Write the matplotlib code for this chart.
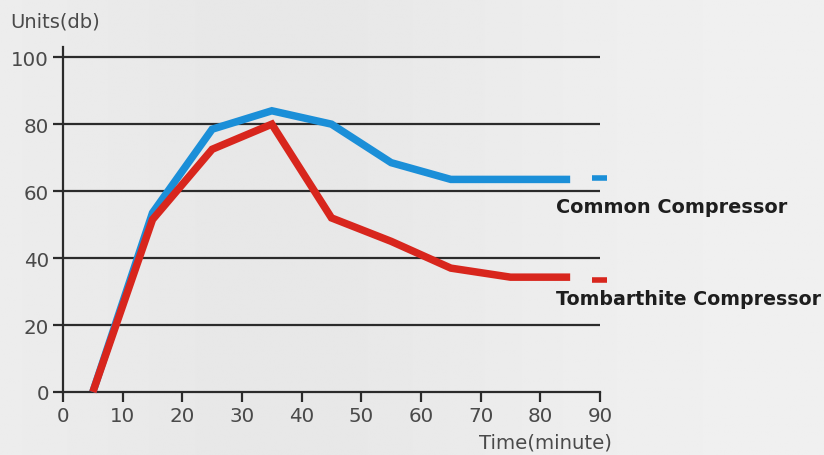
import numpy as np
import matplotlib
matplotlib.use("Agg")
import matplotlib.pyplot as plt

# data
time_common = [5, 15, 25, 35, 45, 55, 65, 85]
db_common = [0, 53.5, 78.5, 84, 80, 68.5, 63.5, 63.5]
time_tomb = [5, 15, 25, 35, 45, 55, 65, 75, 85]
db_tomb = [0, 51.5, 72.5, 80, 52, 45, 37, 34.3, 34.3]
# short dashes to the right of the lines
dash_x = [88.6, 91.2]
dash_common = [64, 64]
dash_tomb = [33.5, 33.5]

x_ticks = list(range(0, 91, 10))
y_ticks = list(range(0, 101, 20))

blue = "#1b8fd8"
red = "#d8261d"
tick_color = "#4a4a4a"

fig = plt.figure(figsize=(8.24, 4.56), dpi=100)

# brushed metal background
bg = fig.add_axes([0, 0, 1, 1], zorder=-10)
cols = np.linspace(0, 1, 400)
shade = 0.935 - 0.03 * np.exp(-((cols - 0.35) / 0.3) ** 2) + 0.005 * cols
grad = np.tile(shade, (50, 1))
bg.imshow(grad, cmap="gray", vmin=0, vmax=1, aspect="auto", extent=[0, 1, 0, 1])
bg.set_axis_off()

ax = fig.add_axes([63 / 824, 63 / 456, 537 / 824, 345.5 / 456])
ax.patch.set_alpha(0)
ax.set_xlim(0, 90)
ax.set_ylim(0, 103.2)

for y in y_ticks[1:]:
    ax.axhline(y, color="#2b2b2b", lw=1.6, zorder=1)

ax.plot(time_common, db_common, color=blue, lw=5.4, solid_joinstyle="miter",
        solid_capstyle="butt", zorder=3, clip_on=False)
ax.plot(time_tomb, db_tomb, color=red, lw=5.4, solid_joinstyle="miter",
        solid_capstyle="butt", zorder=4, clip_on=False)
ax.plot(dash_x, dash_common, color=blue, lw=4, solid_capstyle="butt", clip_on=False)
ax.plot(dash_x, dash_tomb, color=red, lw=4, solid_capstyle="butt", clip_on=False)

for side in ["top", "right"]:
    ax.spines[side].set_visible(False)
ax.spines["left"].set_color("#2b2b2b")
ax.spines["bottom"].set_color("#2b2b2b")
ax.spines["left"].set_linewidth(1.6)
ax.spines["bottom"].set_linewidth(1.6)

ax.set_xticks(x_ticks)
ax.set_yticks(y_ticks)
ax.tick_params(axis="both", colors="#2b2b2b", labelcolor=tick_color,
               labelsize=14.3, width=1.6, length=7, pad=3)

ax.text(82.6, 55.5, "Common Compressor", fontsize=13.9, fontweight="bold",
        color="#1e1e1e", va="center", ha="left", clip_on=False)
ax.text(82.6, 27.8, "Tombarthite Compressor", fontsize=13.7, fontweight="bold",
        color="#1e1e1e", va="center", ha="left", clip_on=False)

fig.text(10 / 824, 1 - 22 / 456, "Units(db)", fontsize=14, color=tick_color,
         va="center", ha="left")
fig.text(612 / 824, 1 - 443 / 456, "Time(minute)", fontsize=14.2, color=tick_color,
         va="center", ha="right")

fig.savefig("out.png", dpi=100)
